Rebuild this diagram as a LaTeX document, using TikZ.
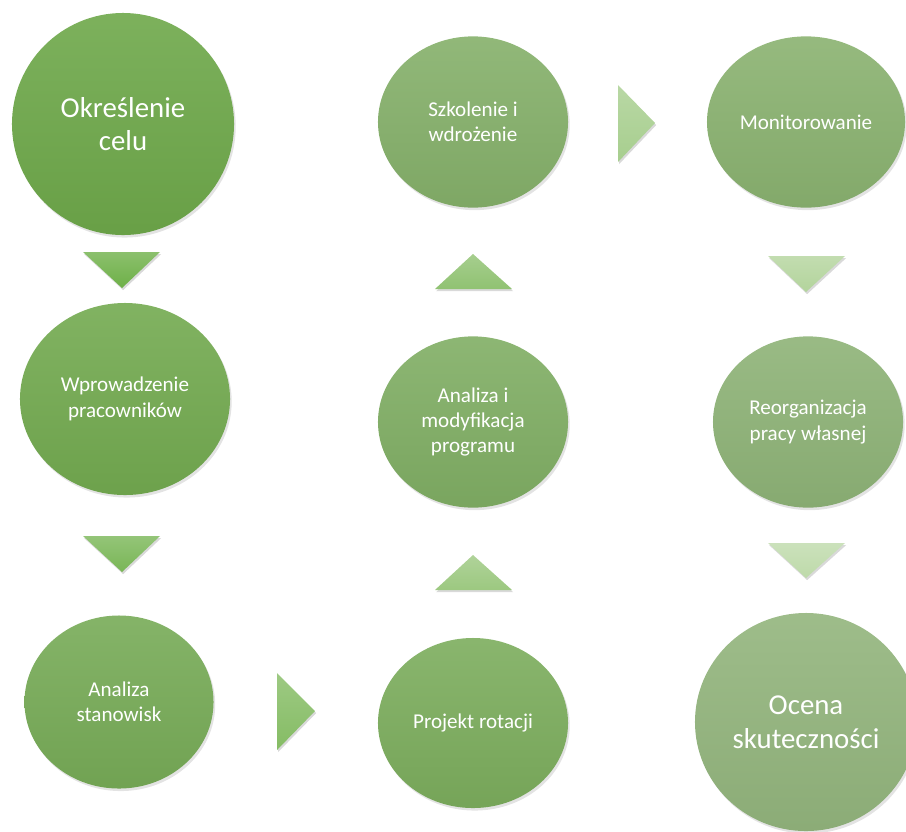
\documentclass[tikz,border=0pt]{standalone}
\usepackage{fontspec}
\setmainfont{Carlito}
\usetikzlibrary{shapes.geometric,shadows}
\definecolor{cA}{RGB}{110,168,74}
\definecolor{cB}{RGB}{115,170,80}
\definecolor{cC}{RGB}{119,171,87}
\definecolor{cD}{RGB}{124,173,93}
\definecolor{cE}{RGB}{128,174,100}
\definecolor{cF}{RGB}{133,176,106}
\definecolor{cG}{RGB}{138,178,112}
\definecolor{cH}{RGB}{142,179,119}
\definecolor{cI}{RGB}{147,181,125}
\definecolor{tA}{RGB}{110,176,72}
\definecolor{tB}{RGB}{121,182,86}
\definecolor{tC}{RGB}{133,188,100}
\definecolor{tD}{RGB}{144,194,114}
\definecolor{tE}{RGB}{156,200,128}
\definecolor{tF}{RGB}{167,206,142}
\definecolor{tG}{RGB}{179,212,156}
\definecolor{tH}{RGB}{190,218,170}
\tikzset{
  stage/.style={ellipse, inner sep=0pt, text=white, align=center,
    font=\fontsize{15}{18}\selectfont,
    top color=#1!90!white, bottom color=#1!95!black, draw=none,
    drop shadow={opacity=0.22, shadow xshift=1.2pt, shadow yshift=-1.8pt}},
  bigtext/.style={font=\fontsize{20.5}{24}\selectfont},
  arrowtri/.style={top color=#1!80!white, bottom color=#1, draw=none,
    drop shadow={opacity=0.3, shadow xshift=0.8pt, shadow yshift=-1.5pt}}
}
\begin{document}
\begin{tikzpicture}[x=0.025cm,y=-0.025cm]
\useasboundingbox (0,0) rectangle (906,831);
% stages
\node[stage=cA, bigtext, minimum width=5.55cm, minimum height=5.55cm] (c1) at (123,124) {Określenie\\celu};
\node[stage=cB, minimum width=5.25cm, minimum height=4.8cm] (c2) at (125,399) {Wprowadzenie\\pracowników};
\node[stage=cC, minimum width=4.725cm, minimum height=4.325cm] (c3) at (119,702) {Analiza\\stanowisk};
\node[stage=cD, minimum width=4.75cm, minimum height=4.25cm] (c4) at (473,723) {Projekt rotacji};
\node[stage=cE, minimum width=4.75cm, minimum height=4.28cm] (c5) at (473,422) {Analiza i\\modyfikacja\\programu};
\node[stage=cF, minimum width=4.75cm, minimum height=4.28cm] (c6) at (473,122) {Szkolenie i\\wdrożenie};
\node[stage=cG, minimum width=4.95cm, minimum height=4.28cm] (c7) at (806,122) {Monitorowanie};
\node[stage=cH, minimum width=4.75cm, minimum height=4.28cm] (c8) at (808,422) {Reorganizacja\\pracy własnej};
\node[stage=cI, bigtext, minimum width=5.55cm, minimum height=5.45cm] (c9) at (806,722) {Ocena\\skuteczności};
% arrows
\path[arrowtri=tA] (83,252) -- (160,252) -- (122,288) -- cycle;
\path[arrowtri=tB] (83,536) -- (160,536) -- (122,572) -- cycle;
\path[arrowtri=tC] (277,673) -- (315,711) -- (277,750) -- cycle;
\path[arrowtri=tD] (473,254) -- (512,289) -- (435,289) -- cycle;
\path[arrowtri=tE] (473,555) -- (512,590) -- (435,590) -- cycle;
\path[arrowtri=tF] (618,85) -- (655,123) -- (618,162) -- cycle;
\path[arrowtri=tG] (768,256) -- (845,256) -- (806,292) -- cycle;
\path[arrowtri=tH] (768,543) -- (845,543) -- (806,578) -- cycle;
\end{tikzpicture}
\end{document}
